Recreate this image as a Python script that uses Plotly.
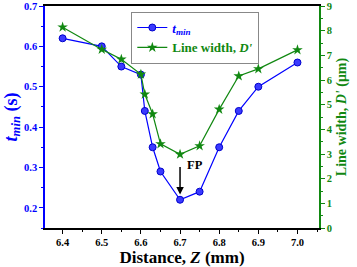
import plotly.graph_objects as go

z = [6.4, 6.5, 6.55, 6.6, 6.61, 6.63, 6.65, 6.7, 6.75, 6.8, 6.85, 6.9, 7.0]
t_min = [0.62, 0.60, 0.55, 0.53, 0.44, 0.35, 0.29, 0.22, 0.24, 0.35, 0.44, 0.50, 0.56]
line_width = [8.14, 7.24, 6.84, 6.23, 5.42, 4.62, 3.41, 2.99, 3.33, 4.81, 6.16, 6.45, 7.22]

BLUE = "#0000ff"
GREEN = "#118811"
FONT = "Liberation Serif"

fig = go.Figure()
fig.add_trace(go.Scatter(
    x=z, y=t_min, mode="lines+markers",
    name="<span style='color:#0000ff'><i>t<sub>min</sub></i></span>",
    line=dict(color=BLUE, width=1.2),
    marker=dict(symbol="circle", size=7, color="#3a3aff", line=dict(color="#0000cc", width=1)),
    yaxis="y"))
fig.add_trace(go.Scatter(
    x=z, y=line_width, mode="lines+markers",
    name="<span style='color:#118811'>Line width, <i>D'</i></span>",
    line=dict(color=GREEN, width=1.2),
    marker=dict(symbol="star", size=8, color=GREEN, line=dict(width=0)),
    yaxis="y2"))

fig.update_layout(
    width=357, height=267,
    margin=dict(l=45, r=38, t=6, b=39, autoexpand=False),
    paper_bgcolor="white", plot_bgcolor="white",
    font=dict(family=FONT, color="black"),
    showlegend=True,
    legend=dict(x=0.315, y=0.975, xanchor="left", yanchor="top",
                bgcolor="white", bordercolor="#888888", borderwidth=1,
                font=dict(family=FONT, size=13, color=GREEN, weight="bold"),
                tracegroupgap=0, itemwidth=30),
    xaxis=dict(range=[6.355, 7.055], dtick=0.1, tick0=6.4, tickformat=".1f",
               automargin=False,
               ticks="outside", ticklen=4, tickwidth=1, tickcolor="black",
               minor=dict(dtick=0.05, ticks="outside", ticklen=2, tickcolor="black"),
               showline=True, linecolor="black", linewidth=1.5, mirror=True,
               showgrid=False, zeroline=False,
               tickfont=dict(family=FONT, size=10.5, color="black", weight="bold"),
               title=dict(text="<b>Distance, <i>Z</i> (mm)</b>", font=dict(family=FONT, size=17, color="black"), standoff=0)),
    yaxis=dict(range=[0.15, 0.7], dtick=0.1, tick0=0.2, tickformat=".1f",
               automargin=False,
               ticks="outside", ticklen=4, tickwidth=1, tickcolor=BLUE,
               minor=dict(dtick=0.05, ticks="outside", ticklen=2, tickcolor=BLUE),
               showline=True, linecolor=BLUE, linewidth=1.5,
               showgrid=False, zeroline=False,
               tickfont=dict(family=FONT, size=10.5, color=BLUE, weight="bold"),
               title=dict(text="<b><i>t<sub>min</sub></i> (s)</b>", font=dict(family=FONT, size=18, color=BLUE), standoff=2)),
    yaxis2=dict(range=[0, 9], dtick=1, overlaying="y", side="right",
                automargin=False,
                ticks="outside", ticklen=4, tickwidth=1, tickcolor=GREEN,
                minor=dict(dtick=0.5, ticks="outside", ticklen=2, tickcolor=GREEN),
                showline=True, linecolor=GREEN, linewidth=1.5,
                showgrid=False, zeroline=False,
                tickfont=dict(family=FONT, size=10.5, color=GREEN, weight="bold"),
                title=dict(text="<b>Line width, <i>D'</i> (μm)</b>", font=dict(family=FONT, size=14, color=GREEN), standoff=4)),
)

fig.add_annotation(x=6.7, y=0.233, xref="x", yref="y", ax=6.7, ay=0.305, axref="x", ayref="y",
                   text="", showarrow=True, arrowhead=2, arrowsize=1, arrowwidth=1.5, arrowcolor="black")
fig.add_annotation(x=6.712, y=0.306, xref="x", yref="y", text="<b>FP</b>", showarrow=False,
                   xanchor="left", yanchor="middle", font=dict(family=FONT, size=12.5, color="black"))

fig.write_html("out.html", config={"displayModeBar": False},
               post_script="document.body.style.margin='0px';document.body.style.overflow='hidden';")
